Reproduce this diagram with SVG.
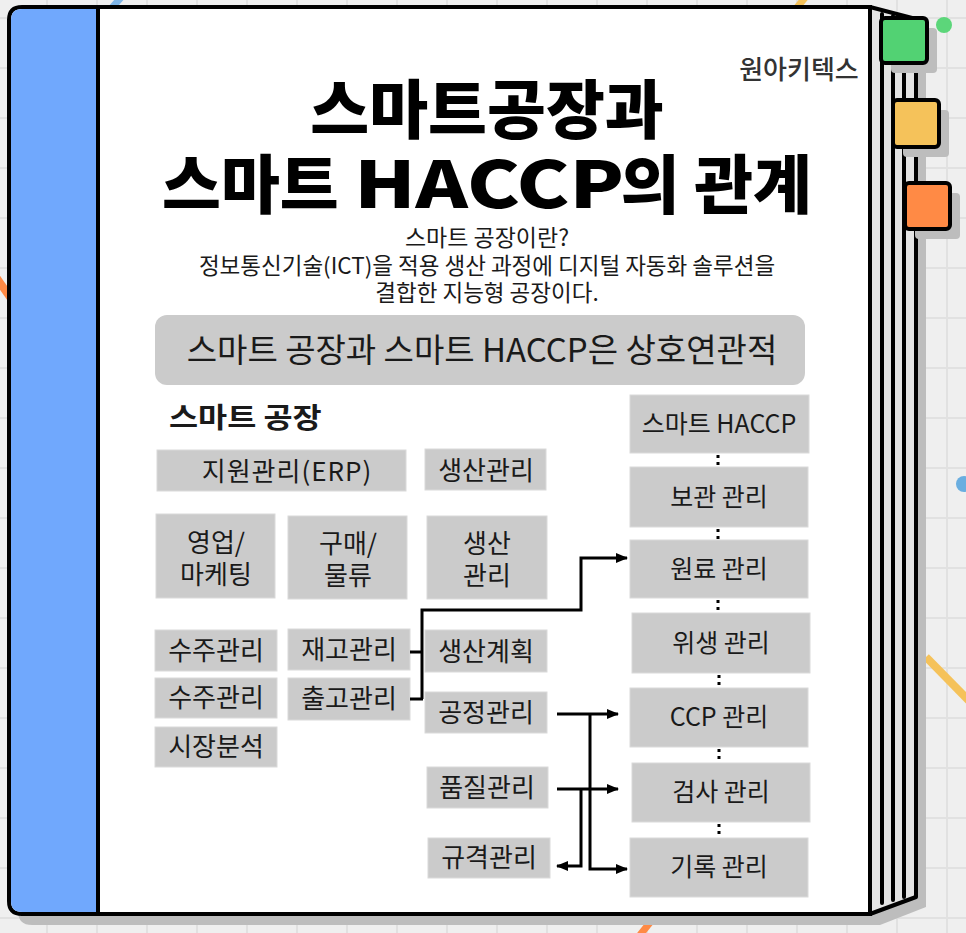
<svg xmlns="http://www.w3.org/2000/svg" width="966" height="933" viewBox="0 0 966 933">
<defs>
<pattern id="grid" patternUnits="userSpaceOnUse" x="46" y="17" width="50" height="50">
<rect x="0" y="0" width="50" height="50" fill="#efefef"/>
<rect x="0" y="0" width="2" height="50" fill="#e1e1e1"/>
<rect x="0" y="0" width="50" height="2" fill="#e1e1e1"/>
</pattern>
<marker id="arr" markerUnits="userSpaceOnUse" markerWidth="12" markerHeight="10" refX="11" refY="5" orient="auto">
<path d="M0,0 L12,5 L0,10 Z" fill="#000"/>
</marker>
<style>
.k{font-family:"Noto Sans CJK KR","Noto Sans",sans-serif;fill:#1a1a1a}
.t{font-family:"Noto Sans CJK KR","Noto Sans",sans-serif;fill:#000;font-size:64px;font-weight:900}
.box{fill:#cbcbcb;stroke:#dadada;stroke-width:1}
.bt{font-size:26px;text-anchor:middle}
.ht{font-size:25px;text-anchor:middle}
.ln{fill:none;stroke:#000;stroke-width:3}
.dot{fill:none;stroke:#000;stroke-width:3;stroke-dasharray:3 4}
.tab{stroke:#000;stroke-width:4}
.shadow{fill:#bdbdbd}
</style>
</defs>

<g id="background">
<rect x="0" y="0" width="966" height="933" fill="url(#grid)"/>
<line x1="110" y1="10" x2="124" y2="-6" stroke="#7fb6e8" stroke-width="7"/>
<line x1="795" y1="10" x2="808" y2="-6" stroke="#f5c25a" stroke-width="7"/>
<line x1="-6" y1="274" x2="12" y2="300" stroke="#ff8a45" stroke-width="8"/>
<circle cx="964" cy="484" r="8" fill="#6aaee0"/>
<line x1="926" y1="657" x2="980" y2="712" stroke="#f5c25a" stroke-width="8"/>
<line x1="656" y1="915" x2="632" y2="945" stroke="#ff8a45" stroke-width="7"/>
</g>

<g id="book">
<path class="shadow" d="M28,17 H880 L926,27 V907 L880,925 H32 Q18,925 18,911 V31 Q18,17 28,17 Z"/>
<path d="M870,7 L916,19 V897 L870,914 Z" fill="#e4e4e4" stroke="#000" stroke-width="4" stroke-linejoin="round"/>
<g stroke="#000" stroke-width="4" stroke-linecap="round">
<line x1="882" y1="14" x2="882" y2="903"/>
<line x1="893" y1="16" x2="893" y2="900"/>
<line x1="904" y1="18" x2="904" y2="897"/>
</g>
<path d="M22,7 H870 V914 H22 Q9,914 9,901 V20 Q9,7 22,7 Z" fill="#fff" stroke="#000" stroke-width="4"/>
<path d="M22,9 H97 V912 H22 Q11,912 11,901 V20 Q11,9 22,9 Z" fill="#70a8fd"/>
<line x1="98" y1="7" x2="98" y2="914" stroke="#000" stroke-width="4"/>
</g>

<g id="tabs">
<rect class="shadow" x="891" y="28" width="46" height="45" rx="4"/>
<rect class="tab" x="881" y="18" width="46" height="45" rx="4" fill="#52d273"/>
<rect class="shadow" x="903" y="110" width="46" height="47" rx="4"/>
<rect class="tab" x="893" y="100" width="46" height="47" rx="4" fill="#f5c25a"/>
<rect class="shadow" x="915" y="193" width="45" height="46" rx="4"/>
<rect class="tab" x="905" y="183" width="45" height="46" rx="4" fill="#ff8a45"/>
<circle cx="944" cy="25" r="8" fill="#5cd67a"/>
</g>

<g id="header">
<text class="k" x="799" y="79" font-size="26" font-weight="500" text-anchor="middle" style="fill:#333">원아키텍스</text>
<text class="t" x="487" y="133" text-anchor="middle">스마트공장과</text>
<text class="t" x="162" y="208">스마트</text>
<text class="t" transform="translate(624,208) scale(1.24,1)" text-anchor="end">HACCP</text>
<text class="t" x="812" y="208" text-anchor="end">의 관계</text>
<text class="k" x="487" y="246" font-size="23" text-anchor="middle">스마트 공장이란?</text>
<text class="k" x="487" y="274" font-size="22.5" text-anchor="middle">정보통신기술(ICT)을 적용 생산 과정에 디지털 자동화 솔루션을</text>
<text class="k" x="487" y="301" font-size="22.5" text-anchor="middle">결합한 지능형 공장이다.</text>
</g>

<g id="banner">
<rect x="155" y="315" width="650" height="70" rx="12" fill="#cbcbcb"/>
<text class="k" x="482" y="362" font-size="33" text-anchor="middle">스마트 공장과 스마트 HACCP은 상호연관적</text>
</g>

<g id="factory-title">
<text class="k" transform="translate(169,428) scale(1.13,1)" font-size="28" font-weight="700">스마트 공장</text>
</g>

<g id="n-erp"><rect class="box" x="157" y="450" width="249" height="41"/><text class="k bt" x="287" y="481" letter-spacing="1">지원관리(ERP)</text></g>
<g id="n-prod-top"><rect class="box" x="425" y="449" width="121" height="41"/><text class="k bt" x="486" y="480">생산관리</text></g>
<g id="n-sales"><rect class="box" x="156" y="514" width="119" height="84"/><text class="k bt" x="216" y="552">영업/</text><text class="k bt" x="216" y="584">마케팅</text></g>
<g id="n-purchase"><rect class="box" x="288" y="516" width="119" height="83"/><text class="k bt" x="348" y="553">구매/</text><text class="k bt" x="348" y="585">물류</text></g>
<g id="n-prod"><rect class="box" x="427" y="516" width="120" height="83"/><text class="k bt" x="487" y="553">생산</text><text class="k bt" x="487" y="585">관리</text></g>
<g id="n-order1"><rect class="box" x="155" y="630" width="122" height="41"/><text class="k bt" x="216" y="660">수주관리</text></g>
<g id="n-stock"><rect class="box" x="288" y="629" width="122" height="41"/><text class="k bt" x="349" y="659">재고관리</text></g>
<g id="n-plan"><rect class="box" x="425" y="630" width="122" height="42"/><text class="k bt" x="486" y="661">생산계획</text></g>
<g id="n-order2"><rect class="box" x="155" y="678" width="122" height="40"/><text class="k bt" x="216" y="707">수주관리</text></g>
<g id="n-ship"><rect class="box" x="288" y="678" width="122" height="42"/><text class="k bt" x="349" y="708">출고관리</text></g>
<g id="n-process"><rect class="box" x="425" y="692" width="122" height="41"/><text class="k bt" x="486" y="722">공정관리</text></g>
<g id="n-market"><rect class="box" x="155" y="727" width="122" height="40"/><text class="k bt" x="216" y="756">시장분석</text></g>
<g id="n-quality"><rect class="box" x="427" y="767" width="121" height="41"/><text class="k bt" x="487" y="797">품질관리</text></g>
<g id="n-spec"><rect class="box" x="428" y="838" width="122" height="40"/><text class="k bt" x="489" y="867">규격관리</text></g>

<g id="h-haccp"><rect class="box" x="630" y="395" width="179" height="58"/><text class="k ht" x="719" y="433">스마트 HACCP</text></g>
<g id="h-storage"><rect class="box" x="630" y="467" width="178" height="60"/><text class="k ht" x="719" y="506">보관 관리</text></g>
<g id="h-raw"><rect class="box" x="630" y="540" width="178" height="58"/><text class="k ht" x="719" y="578">원료 관리</text></g>
<g id="h-hygiene"><rect class="box" x="632" y="613" width="178" height="60"/><text class="k ht" x="721" y="652">위생 관리</text></g>
<g id="h-ccp"><rect class="box" x="630" y="688" width="178" height="59"/><text class="k ht" x="719" y="726">CCP 관리</text></g>
<g id="h-inspect"><rect class="box" x="632" y="763" width="178" height="59"/><text class="k ht" x="721" y="801">검사 관리</text></g>
<g id="h-record"><rect class="box" x="630" y="838" width="178" height="59"/><text class="k ht" x="719" y="876">기록 관리</text></g>

<g id="connectors">
<path class="ln" d="M410,652 H422"/>
<path class="ln" d="M410,699 H423"/>
<path class="ln" d="M422,699 V610 H581 V558 H627" marker-end="url(#arr)"/>
<path class="ln" d="M557,714 H618" marker-end="url(#arr)"/>
<path class="ln" d="M590,714 V869 H627" marker-end="url(#arr)"/>
<path class="ln" d="M557,789 H618" marker-end="url(#arr)"/>
<path class="ln" d="M581,789 V866 H557" marker-end="url(#arr)"/>
<path class="dot" d="M718,455 V467 M718,529 V540 M718,600 V613 M719,675 V688 M719,749 V763 M719,824 V838"/>
</g>
</svg>
